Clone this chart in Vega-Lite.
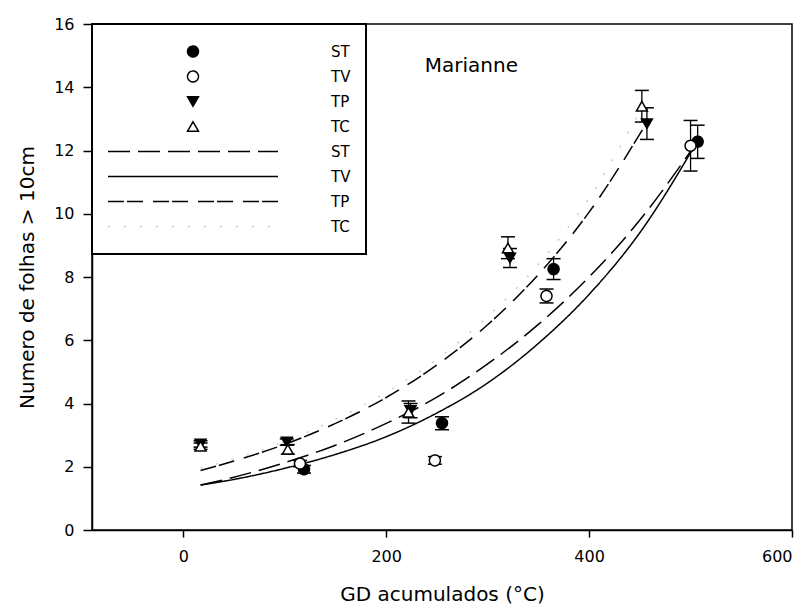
{
  "$schema": "https://vega.github.io/schema/vega-lite/v6.json",
  "width": 700,
  "height": 506,
  "autosize": {"type": "none"},
  "padding": {"left": 92, "top": 24, "right": 17, "bottom": 80},
  "background": "white",
  "config": {
    "font": "DejaVu Sans",
    "view": {"stroke": "black", "strokeWidth": 1.5},
    "legend": {"strokeWidth": 2},
    "axis": {
      "domainColor": "black",
      "domainWidth": 1.5,
      "tickColor": "black",
      "tickWidth": 1.5,
      "grid": false,
      "labelFont": "DejaVu Sans",
      "labelFontSize": 16,
      "labelColor": "black",
      "titleFont": "DejaVu Sans",
      "titleFontSize": 20,
      "titleFontWeight": "normal",
      "titleColor": "black"
    },
    "axisX": {"tickSize": 7, "labelPadding": 11, "titlePadding": 20},
    "axisY": {"tickSize": 9, "labelPadding": 9, "titlePadding": 16}
  },
  "datasets": {
    "points": [
      {"key": "pST", "x": 119, "y": 1.92, "lo": 1.8, "hi": 2.04},
      {"key": "pST", "x": 255, "y": 3.38, "lo": 3.17, "hi": 3.58},
      {"key": "pST", "x": 365, "y": 8.25, "lo": 7.92, "hi": 8.58},
      {"key": "pST", "x": 507, "y": 12.28, "lo": 11.75, "hi": 12.8},
      {"key": "pTV", "x": 115, "y": 2.1, "lo": 2.0, "hi": 2.2},
      {"key": "pTV", "x": 248, "y": 2.2, "lo": 2.08, "hi": 2.32},
      {"key": "pTV", "x": 358, "y": 7.4, "lo": 7.18, "hi": 7.62},
      {"key": "pTV", "x": 500, "y": 12.15, "lo": 11.35, "hi": 12.95},
      {"key": "pTP", "x": 17, "y": 2.72, "lo": 2.62, "hi": 2.82},
      {"key": "pTP", "x": 102, "y": 2.78, "lo": 2.68, "hi": 2.88},
      {"key": "pTP", "x": 224, "y": 3.78, "lo": 3.55, "hi": 4.0},
      {"key": "pTP", "x": 322, "y": 8.6, "lo": 8.3, "hi": 8.9},
      {"key": "pTP", "x": 457, "y": 12.85, "lo": 12.35, "hi": 13.35},
      {"key": "pTC", "x": 17, "y": 2.65, "lo": 2.55, "hi": 2.75},
      {"key": "pTC", "x": 103, "y": 2.55, "lo": 2.4, "hi": 2.7},
      {"key": "pTC", "x": 222, "y": 3.72, "lo": 3.38, "hi": 4.08},
      {"key": "pTC", "x": 320, "y": 8.92, "lo": 8.58, "hi": 9.27},
      {"key": "pTC", "x": 452, "y": 13.4, "lo": 12.9, "hi": 13.9}
    ],
    "curves": [
      {"key": "lST", "x": 17, "y": 1.42}, {"key": "lST", "x": 50, "y": 1.67}, {"key": "lST", "x": 100, "y": 2.13},
      {"key": "lST", "x": 150, "y": 2.68}, {"key": "lST", "x": 200, "y": 3.37}, {"key": "lST", "x": 250, "y": 4.2},
      {"key": "lST", "x": 300, "y": 5.25}, {"key": "lST", "x": 350, "y": 6.5}, {"key": "lST", "x": 400, "y": 8.0},
      {"key": "lST", "x": 450, "y": 9.8}, {"key": "lST", "x": 505, "y": 12.2},
      {"key": "lTV", "x": 17, "y": 1.42}, {"key": "lTV", "x": 50, "y": 1.6}, {"key": "lTV", "x": 100, "y": 1.95},
      {"key": "lTV", "x": 150, "y": 2.39}, {"key": "lTV", "x": 200, "y": 2.95}, {"key": "lTV", "x": 250, "y": 3.7},
      {"key": "lTV", "x": 300, "y": 4.65}, {"key": "lTV", "x": 350, "y": 5.9}, {"key": "lTV", "x": 400, "y": 7.45},
      {"key": "lTV", "x": 450, "y": 9.4}, {"key": "lTV", "x": 505, "y": 12.2},
      {"key": "lTP", "x": 17, "y": 1.88}, {"key": "lTP", "x": 50, "y": 2.18}, {"key": "lTP", "x": 100, "y": 2.71},
      {"key": "lTP", "x": 150, "y": 3.37}, {"key": "lTP", "x": 200, "y": 4.19}, {"key": "lTP", "x": 250, "y": 5.22},
      {"key": "lTP", "x": 300, "y": 6.49}, {"key": "lTP", "x": 350, "y": 8.08}, {"key": "lTP", "x": 400, "y": 10.05},
      {"key": "lTP", "x": 455, "y": 12.78},
      {"key": "lTC", "x": 17, "y": 1.95}, {"key": "lTC", "x": 50, "y": 2.25}, {"key": "lTC", "x": 100, "y": 2.8},
      {"key": "lTC", "x": 150, "y": 3.5}, {"key": "lTC", "x": 200, "y": 4.35}, {"key": "lTC", "x": 250, "y": 5.4},
      {"key": "lTC", "x": 300, "y": 6.75}, {"key": "lTC", "x": 350, "y": 8.4}, {"key": "lTC", "x": 400, "y": 10.5},
      {"key": "lTC", "x": 452, "y": 13.35}
    ],
    "notes": [
      {"label": "Marianne", "x": 284, "y": 14.48}
    ]
  },
  "layer": [
    {
      "data": {"name": "curves"},
      "mark": {"type": "line", "interpolate": "monotone", "strokeWidth": 1.5},
      "encoding": {
        "x": {"field": "x", "type": "quantitative", "title": "GD acumulados (°C)",
              "scale": {"domain": [-90, 600], "nice": false, "zero": false},
              "axis": {"values": [0, 200, 400, 600]}},
        "y": {"field": "y", "type": "quantitative", "title": "Numero de folhas > 10cm",
              "scale": {"domain": [0, 16], "nice": false},
              "axis": {"values": [0, 2, 4, 6, 8, 10, 12, 14, 16]}},
        "color": {"field": "key", "type": "nominal", "legend": null,
                  "scale": {"domain": ["lST", "lTV", "lTP", "lTC"],
                            "range": ["black", "black", "black", "#cccccc"]}},
        "strokeDash": {"field": "key", "type": "ordinal",
                       "scale": {"type": "ordinal", "domain": ["pST", "pTV", "pTP", "pTC", "lST", "lTV", "lTP", "lTC"],
                                 "range": [[1, 0], [1, 0], [1, 0], [1, 0], [22, 8], [1, 0], [16, 3, 16, 10], [2, 14]]},
                       "legend": {"orient": "none", "legendX": 0, "legendY": 0, "title": null, "padding": 15,
                                  "strokeColor": "black", "fillColor": "white", "labelFont": "DejaVu Sans",
                                  "labelFontSize": 15, "labelColor": "black", "labelOffset": 52, "clipHeight": 25,
                                  "rowPadding": 0, "symbolOffset": 0, "symbolFillColor": "white",
                                  "symbolStrokeColor": "black", "symbolStrokeWidth": 1.5,
                                  "labelExpr": "substring(datum.label, 1)"}}
      }
    },
    {
      "data": {"name": "points"},
      "mark": {"type": "rule", "color": "black", "strokeWidth": 1.3},
      "encoding": {
        "x": {"field": "x", "type": "quantitative", "title": "GD acumulados (°C)"},
        "y": {"field": "lo", "type": "quantitative", "title": "Numero de folhas > 10cm"},
        "y2": {"field": "hi"}
      }
    },
    {
      "data": {"name": "points"},
      "mark": {"type": "tick", "orient": "horizontal", "color": "black", "size": 14, "thickness": 1.5, "opacity": 1},
      "encoding": {
        "x": {"field": "x", "type": "quantitative", "title": "GD acumulados (°C)"},
        "y": {"field": "lo", "type": "quantitative", "title": "Numero de folhas > 10cm"}
      }
    },
    {
      "data": {"name": "points"},
      "mark": {"type": "tick", "orient": "horizontal", "color": "black", "size": 14, "thickness": 1.5, "opacity": 1},
      "encoding": {
        "x": {"field": "x", "type": "quantitative", "title": "GD acumulados (°C)"},
        "y": {"field": "hi", "type": "quantitative", "title": "Numero de folhas > 10cm"}
      }
    },
    {
      "data": {"name": "points"},
      "mark": {"type": "point", "strokeWidth": 1.5, "opacity": 1},
      "encoding": {
        "x": {"field": "x", "type": "quantitative", "title": "GD acumulados (°C)"},
        "y": {"field": "y", "type": "quantitative", "title": "Numero de folhas > 10cm"},
        "shape": {"field": "key", "type": "ordinal",
                  "scale": {"type": "ordinal", "domain": ["pST", "pTV", "pTP", "pTC", "lST", "lTV", "lTP", "lTC"],
                            "range": ["circle", "circle", "triangle-down", "triangle-up", "stroke", "stroke", "stroke", "stroke"]},
                  "legend": {"orient": "none", "legendX": 0, "legendY": 0, "title": null, "padding": 15,
                             "strokeColor": "black", "fillColor": "white", "labelFont": "DejaVu Sans",
                             "labelFontSize": 15, "labelColor": "black", "labelOffset": 52, "clipHeight": 25,
                             "rowPadding": 0, "symbolOffset": 0, "symbolFillColor": "white",
                             "symbolStrokeColor": "black", "symbolStrokeWidth": 1.5,
                             "labelExpr": "substring(datum.label, 1)"}},
        "fill": {"field": "key", "type": "ordinal",
                 "scale": {"type": "ordinal", "domain": ["pST", "pTV", "pTP", "pTC", "lST", "lTV", "lTP", "lTC"],
                           "range": ["black", "white", "black", "white", "transparent", "transparent", "transparent", "transparent"]},
                 "legend": {"orient": "none", "legendX": 0, "legendY": 0, "title": null, "padding": 15,
                            "strokeColor": "black", "fillColor": "white", "labelFont": "DejaVu Sans",
                            "labelFontSize": 15, "labelColor": "black", "labelOffset": 52, "clipHeight": 25,
                            "rowPadding": 0, "symbolOffset": 0, "symbolFillColor": "white",
                            "symbolStrokeColor": "black", "symbolStrokeWidth": 1.5,
                            "labelExpr": "substring(datum.label, 1)"}},
        "stroke": {"field": "key", "type": "ordinal",
                   "scale": {"type": "ordinal", "domain": ["pST", "pTV", "pTP", "pTC", "lST", "lTV", "lTP", "lTC"],
                             "range": ["black", "black", "black", "black", "black", "black", "black", "#cccccc"]},
                   "legend": {"orient": "none", "legendX": 0, "legendY": 0, "title": null, "padding": 15,
                              "strokeColor": "black", "fillColor": "white", "labelFont": "DejaVu Sans",
                              "labelFontSize": 15, "labelColor": "black", "labelOffset": 52, "clipHeight": 25,
                              "rowPadding": 0, "symbolOffset": 0, "symbolFillColor": "white",
                              "symbolStrokeColor": "black", "symbolStrokeWidth": 1.5,
                              "labelExpr": "substring(datum.label, 1)"}},
        "size": {"field": "key", "type": "ordinal",
                 "scale": {"type": "ordinal", "domain": ["pST", "pTV", "pTP", "pTC", "lST", "lTV", "lTP", "lTC"],
                           "range": [120, 120, 120, 120, 28900, 28900, 28900, 28900]},
                 "legend": {"orient": "none", "legendX": 0, "legendY": 0, "title": null, "padding": 15,
                            "strokeColor": "black", "fillColor": "white", "labelFont": "DejaVu Sans",
                            "labelFontSize": 15, "labelColor": "black", "labelOffset": 52, "clipHeight": 25,
                            "rowPadding": 0, "symbolOffset": 0, "symbolFillColor": "white",
                            "symbolStrokeColor": "black", "symbolStrokeWidth": 1.5,
                            "labelExpr": "substring(datum.label, 1)"}},
        "strokeDash": {"field": "key", "type": "ordinal",
                       "scale": {"type": "ordinal", "domain": ["pST", "pTV", "pTP", "pTC", "lST", "lTV", "lTP", "lTC"],
                                 "range": [[1, 0], [1, 0], [1, 0], [1, 0], [22, 8], [1, 0], [16, 3, 16, 10], [2, 14]]},
                       "legend": {"orient": "none", "legendX": 0, "legendY": 0, "title": null, "padding": 15,
                                  "strokeColor": "black", "fillColor": "white", "labelFont": "DejaVu Sans",
                                  "labelFontSize": 15, "labelColor": "black", "labelOffset": 52, "clipHeight": 25,
                                  "rowPadding": 0, "symbolOffset": 0, "symbolFillColor": "white",
                                  "symbolStrokeColor": "black", "symbolStrokeWidth": 1.5,
                                  "labelExpr": "substring(datum.label, 1)"}}
      }
    },
    {
      "data": {"name": "notes"},
      "mark": {"type": "text", "font": "DejaVu Sans", "fontSize": 20, "align": "center", "baseline": "alphabetic", "color": "black"},
      "encoding": {
        "x": {"field": "x", "type": "quantitative", "title": "GD acumulados (°C)"},
        "y": {"field": "y", "type": "quantitative", "title": "Numero de folhas > 10cm"},
        "text": {"field": "label"}
      }
    }
  ]
}
